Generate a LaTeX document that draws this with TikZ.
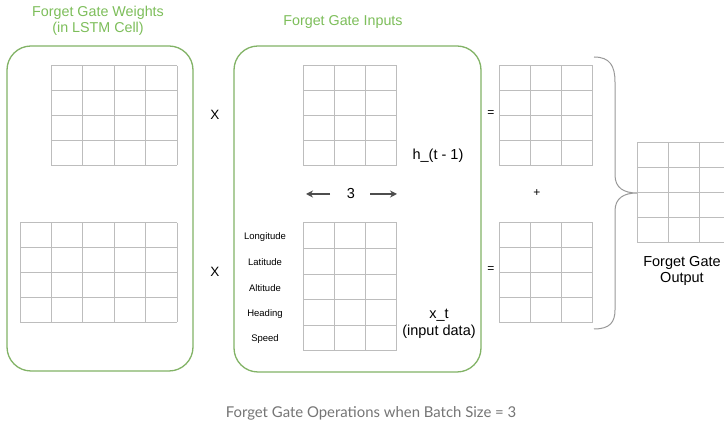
\documentclass[tikz,border=0pt]{standalone}
\usepackage{fontspec}
\setmainfont{Liberation Sans}
\newfontfamily\capfont{Lato}
\usetikzlibrary{arrows.meta}
\definecolor{gboxc}{HTML}{82B366}
\definecolor{gtextc}{HTML}{7DBE5A}
\definecolor{gridc}{HTML}{BDBDBD}
\definecolor{capc}{HTML}{757575}
\definecolor{arrc}{HTML}{4D4D4D}
\newcommand\matgrid[6]{% x0 y0 cols rows cw rh
  \foreach \ci in {0,...,#3}{\draw[gridline] ({#1+\ci*#5},#2) -- ({#1+\ci*#5},{#2+#4*#6});}
  \foreach \ri in {0,...,#4}{\draw[gridline] (#1,{#2+\ri*#6}) -- ({#1+#3*#5},{#2+\ri*#6});}
}
\tikzset{
  gridline/.style={draw=gridc,line width=1pt},
  gbox/.style={draw=gboxc,line width=1.3pt,rounded corners=24pt},
  gtitle/.style={text=gtextc,font=\fontsize{14.3}{16}\selectfont,align=center,inner sep=0pt},
  optxt/.style={font=\fontsize{13.5}{15}\selectfont,inner sep=0pt},
  smop/.style={font=\fontsize{12}{14}\selectfont,inner sep=0pt},
  lbl/.style={font=\fontsize{14.5}{16.5}\selectfont,align=center,inner sep=0pt},
  feat/.style={font=\fontsize{9.5}{11}\selectfont,inner sep=0pt},
  dimarrow/.style={draw=arrc,line width=1.2pt,-{Stealth[length=7pt,width=7pt]}},
  bracec/.style={draw=gray!80,line width=1pt}
}
\begin{document}
\begin{tikzpicture}[x=1pt,y=-1pt]
\useasboundingbox (0,0) rectangle (724,427);
\clip (0,0) rectangle (724,427);
\fill[white] (0,0) rectangle (724,427);
% titles
\node[gtitle] (t1) at (98,21) {Forget Gate Weights\\(in LSTM Cell)};
\node[gtitle] (t2) at (343,22) {Forget Gate Inputs};
% boxes
\draw[gbox] (7,46) rectangle (193,371);
\draw[gbox] (234,46) rectangle (481,372);
% weight grids
\matgrid{51}{66}{4}{4}{31.5}{24.8}
\matgrid{20}{223}{5}{4}{31.4}{24.8}
% input grids
\matgrid{303}{66}{3}{4}{31.3}{25}
\matgrid{303}{223}{3}{5}{31.3}{25.6}
% result grids
\matgrid{499}{66}{3}{4}{31.3}{25}
\matgrid{499}{223}{3}{4}{31.3}{24.8}
% output grid
\matgrid{637}{143}{4}{4}{31.3}{25}
% operators
\node[optxt] (x1) at (215,115) {X};
\node[optxt] (x2) at (215,272) {X};
\node[smop] (e1) at (491,114) {=};
\node[smop] (e2) at (491,270) {=};
\node[smop] (pl) at (537,193) {+};
% labels
\node[lbl] (h) at (438,156) {h\_(t - 1)};
\node[lbl] (xt) at (439,324) {x\_t\\(input data)};
\node[lbl] (three) at (351,194) {3};
\coordinate (la1) at (330,194);
\coordinate (la2) at (306,194);
\coordinate (ra1) at (370,194);
\coordinate (ra2) at (397,194);
\draw[dimarrow] (la1) -- (la2);
\draw[dimarrow] (ra1) -- (ra2);
\node[feat] (f1) at (265,237) {Longitude};
\node[feat] (f2) at (265,262) {Latitude};
\node[feat] (f3) at (265,288) {Altitude};
\node[feat] (f4) at (265,314) {Heading};
\node[feat] (f5) at (265,339) {Speed};
\node[lbl] (out) at (682,271) {Forget Gate\\Output};
% brace
\coordinate (bt) at (594,57);
\coordinate (bb) at (594,329);
\coordinate (btip) at (637,193);
\draw[bracec] (bt) .. controls (610,57) and (615,66) .. (615,82)
  -- (615,175) .. controls (615,188) and (624,193) .. (btip)
  .. controls (624,193) and (615,198) .. (615,211)
  -- (615,310) .. controls (615,322) and (610,329) .. (bb);
% caption
\node[text=capc,font=\capfont\fontsize{14.9}{17}\selectfont,inner sep=0pt] (cap) at (371,413) {Forget Gate Operations when Batch Size = 3};
\end{tikzpicture}
\end{document}
